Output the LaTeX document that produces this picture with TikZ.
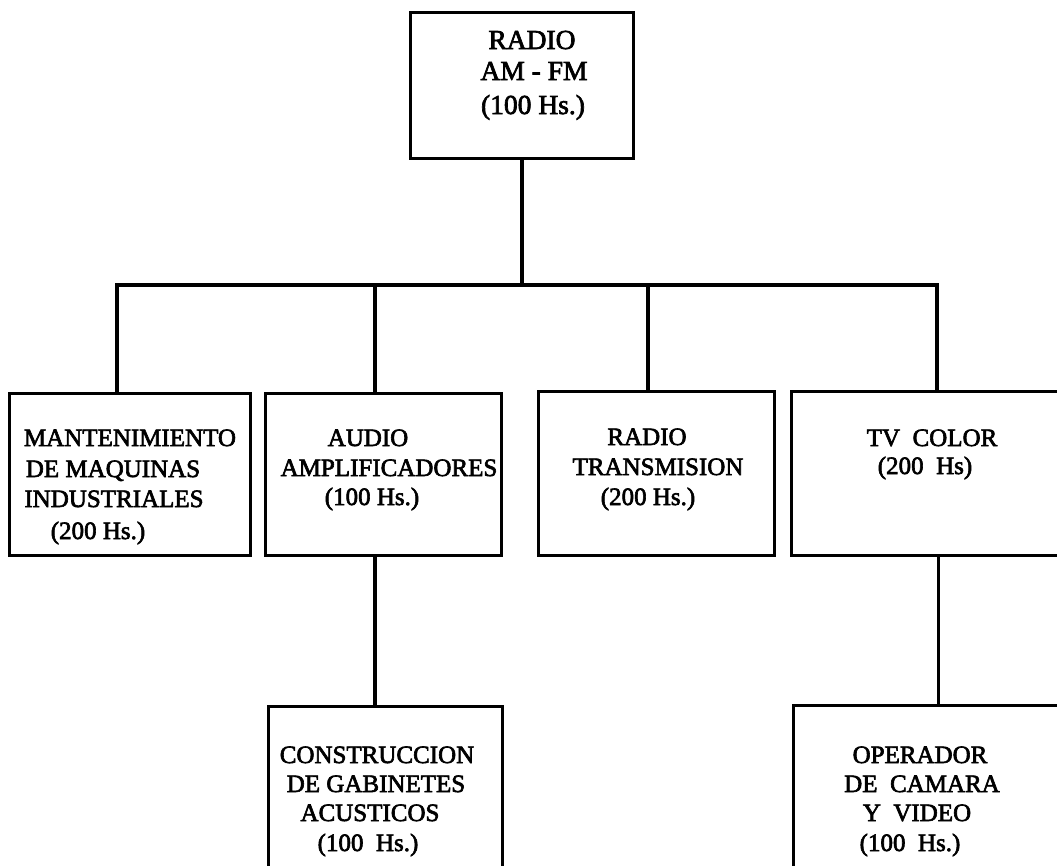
\documentclass[tikz,border=0pt]{standalone}
\usepackage{fontspec}
\setmainfont{Liberation Serif}
\newfontfamily\inkfont{Liberation Serif}[FakeBold=2.5]
\begin{document}
\begin{tikzpicture}[x=1pt,y=-1pt,
  box/.style={draw, line width=2.8pt, rectangle, inner sep=0pt, anchor=north west},
  link/.style={line width=3.4pt},
  lbl/.style={anchor=base, inner sep=0pt, font=\inkfont\fontsize{25}{30}\selectfont},
  biglbl/.style={anchor=base, inner sep=0pt, font=\inkfont\fontsize{27.5}{32}\selectfont}]
\useasboundingbox (0,0) rectangle (1057,865);
\clip (0,0) rectangle (1057,865);
\fill[white] (0,0) rectangle (1057,865);
% boxes
\node[box, minimum width=223pt, minimum height=146pt] (top) at (409,11) {};
\node[box, minimum width=241pt, minimum height=162pt] (b1) at (8,392) {};
\node[box, minimum width=236pt, minimum height=162pt] (b2) at (264,392) {};
\node[box, minimum width=236pt, minimum height=164pt] (b3) at (537,390) {};
\node[box, minimum width=294pt, minimum height=164pt] (b4) at (790,390) {};
\node[box, minimum width=234pt, minimum height=200pt] (b5) at (267,705) {};
\node[box, minimum width=290pt, minimum height=200pt] (b6) at (792,704) {};
% connectors
\coordinate (bus) at (0,285);
\coordinate (j1) at (117,285);
\coordinate (j2) at (375,285);
\coordinate (j3) at (648,285);
\coordinate (j4) at (937,285);
\draw[link] (top.south) -- (top.south |- bus);
\draw[link, line cap=rect] (j1) -- (j4);
\draw[link] (j1) -- (j1 |- b1.north);
\draw[link] (j2) -- (j2 |- b2.north);
\draw[link] (j3) -- (j3 |- b3.north);
\draw[link] (j4) -- (j4 |- b4.north);
\draw[link] (j2 |- b2.south) -- (j2 |- b5.north);
\draw[link] (b4.south) -- (b6.north);
% texts
\node[biglbl] (t0a) at (532,49) {RADIO};
\node[biglbl] (t0b) at (534,80) {AM - FM};
\node[biglbl] (t0c) at (533,114) {(100 Hs.)};
\node[lbl] (t1a) at (130,446) {MANTENIMIENTO};
\node[lbl] (t1b) at (113,477) {DE MAQUINAS};
\node[lbl] (t1c) at (114,507) {INDUSTRIALES};
\node[lbl] (t1d) at (98,539) {(200 Hs.)};
\node[lbl] (t2a) at (368,446) {AUDIO};
\node[lbl] (t2b) at (389,476) {AMPLIFICADORES};
\node[lbl] (t2c) at (372,505) {(100 Hs.)};
\node[lbl] (t3a) at (647,445) {RADIO};
\node[lbl] (t3b) at (658,475) {TRANSMISION};
\node[lbl] (t3c) at (648,505) {(200 Hs.)};
\node[lbl] (t4a) at (932,446) {TV~~COLOR};
\node[lbl] (t4b) at (925,474) {(200~~Hs)};
\node[lbl] (t5a) at (377,763) {CONSTRUCCION};
\node[lbl] (t5b) at (376,792) {DE GABINETES};
\node[lbl] (t5c) at (370,821) {ACUSTICOS};
\node[lbl] (t5d) at (368,851) {(100~~Hs.)};
\node[lbl] (t6a) at (920,763) {OPERADOR};
\node[lbl] (t6b) at (922,792) {DE~~CAMARA};
\node[lbl] (t6c) at (917,821) {Y~~VIDEO};
\node[lbl] (t6d) at (910,851) {(100~~Hs.)};
\end{tikzpicture}
\end{document}
